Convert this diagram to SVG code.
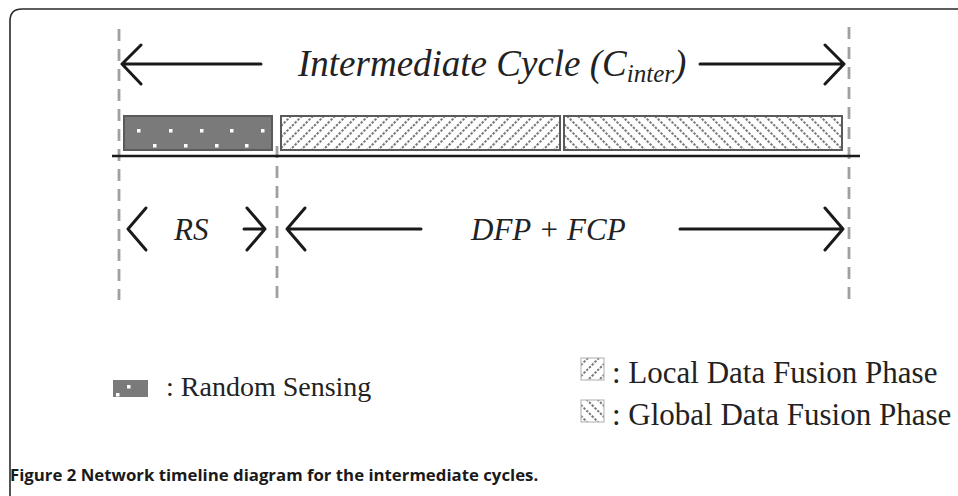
<svg xmlns="http://www.w3.org/2000/svg" width="958" height="496" viewBox="0 0 958 496">
  <defs>
    <!-- white dot used in the random sensing texture -->
    <rect id="dot" width="3.5" height="3.5" fill="#fff"/>
    <!-- forward hatch (local fusion) -->
    <pattern id="hatchF" patternUnits="userSpaceOnUse" width="11" height="11">
      <rect width="11" height="11" fill="#fff"/>
      <path d="M-2,13 L13,-2 M-2,2 L2,-2 M9,13 L13,9" stroke="#7a7a7a" stroke-width="2" stroke-dasharray="2.4 1.4"/>
    </pattern>
    <!-- backward hatch (global fusion) -->
    <pattern id="hatchB" patternUnits="userSpaceOnUse" width="11" height="11">
      <rect width="11" height="11" fill="#fff"/>
      <path d="M-2,-2 L13,13 M-2,9 L2,13 M9,-2 L13,2" stroke="#7a7a7a" stroke-width="2" stroke-dasharray="2.4 1.4"/>
    </pattern>
    <style>
      .frame { fill: none; stroke: #2a2a2a; stroke-width: 1.6; }
      .guide { stroke: #a0a0a0; stroke-width: 2.8; stroke-dasharray: 12 8; fill: none; }
      .arrow { stroke: #1a1a1a; stroke-width: 3; fill: none; stroke-linecap: round; stroke-linejoin: round; }
      .axis { stroke: #1a1a1a; stroke-width: 2.5; }
      .block { stroke: #5a5a5a; stroke-width: 2; }
      .lbl { font-family: "Liberation Serif", "Times New Roman", serif; font-style: italic; fill: #222; }
      .leg { font-family: "Liberation Serif", "Times New Roman", serif; font-size: 31px; fill: #222; }
      .leg-sm { font-size: 28px; }
      .cap { font-family: "Open Sans", "Noto Sans", sans-serif; font-weight: 700; font-size: 16.8px; fill: #1a1a1a; }
    </style>
  </defs>

  <rect width="958" height="496" fill="#fff"/>

  <!-- figure frame, open to the right and bottom -->
  <path class="frame" d="M10,496 L10,21 Q10,9 22,9 L958,9"/>

  <!-- phase boundaries -->
  <g id="guides">
    <line class="guide" x1="119" y1="29" x2="119" y2="300"/>
    <line class="guide" x1="277" y1="146" x2="277" y2="300"/>
    <line class="guide" x1="849" y1="27" x2="849" y2="300"/>
  </g>

  <!-- timeline blocks -->
  <g id="rs-block">
    <rect class="block" x="124" y="116" width="148" height="34" fill="#7a7a7a"/>
    <use href="#dot" x="137" y="129"/><use href="#dot" x="169" y="129"/><use href="#dot" x="200" y="129"/>
    <use href="#dot" x="230" y="129"/><use href="#dot" x="261" y="129"/>
    <use href="#dot" x="153" y="144"/><use href="#dot" x="184" y="144"/><use href="#dot" x="215" y="144"/>
    <use href="#dot" x="245" y="144"/>
  </g>
  <g id="local-block">
    <rect class="block" x="281" y="116" width="279" height="34" fill="url(#hatchF)"/>
  </g>
  <g id="global-block">
    <rect class="block" x="564" y="116" width="278" height="34" fill="url(#hatchB)"/>
  </g>
  <line class="axis" x1="112" y1="156" x2="860" y2="156"/>

  <!-- span arrows -->
  <g id="connectors">
    <path class="arrow" d="M261,64 L122,64 M141,45 L122,64 L141,84"/>
    <path class="arrow" d="M700,64 L844,64 M825,45 L844,64 L825,84"/>
    <path class="arrow" d="M128,229 L146,208 M128,229 L146,250"/>
    <path class="arrow" d="M244,229 L265,229 M247,208 L265,229 L247,250"/>
    <path class="arrow" d="M421,229 L287,229 M305,208 L287,229 L305,250"/>
    <path class="arrow" d="M680,229 L843,229 M825,208 L843,229 L825,250"/>
  </g>

  <!-- span labels -->
  <g id="label-cycle">
    <text class="lbl" x="298" y="76" font-size="37">Intermediate Cycle (C<tspan font-size="25" dy="6">inter</tspan><tspan dy="-6">)</tspan></text>
  </g>
  <g id="label-rs">
    <text class="lbl" x="174" y="240" font-size="31">RS</text>
  </g>
  <g id="label-dfp">
    <text class="lbl" x="471" y="240" font-size="31">DFP + FCP</text>
  </g>

  <!-- legend -->
  <g id="legend-rs">
    <rect x="113" y="380" width="35" height="17" fill="#7a7a7a"/>
    <use href="#dot" x="127" y="385"/>
    <use href="#dot" x="116" y="393"/>
    <text class="leg leg-sm" x="166" y="396">: Random Sensing</text>
  </g>
  <g id="legend-local">
    <rect x="581" y="358" width="23" height="22" fill="url(#hatchF)" stroke="#bbb" stroke-width="1.2"/>
    <text class="leg" x="612" y="383">: Local Data Fusion Phase</text>
  </g>
  <g id="legend-global">
    <rect x="581" y="400" width="23" height="22" fill="url(#hatchB)" stroke="#bbb" stroke-width="1.2"/>
    <text class="leg" x="612" y="425">: Global Data Fusion Phase</text>
  </g>

  <!-- caption -->
  <text class="cap" x="10" y="481">Figure 2 Network timeline diagram for the intermediate cycles.</text>
</svg>
